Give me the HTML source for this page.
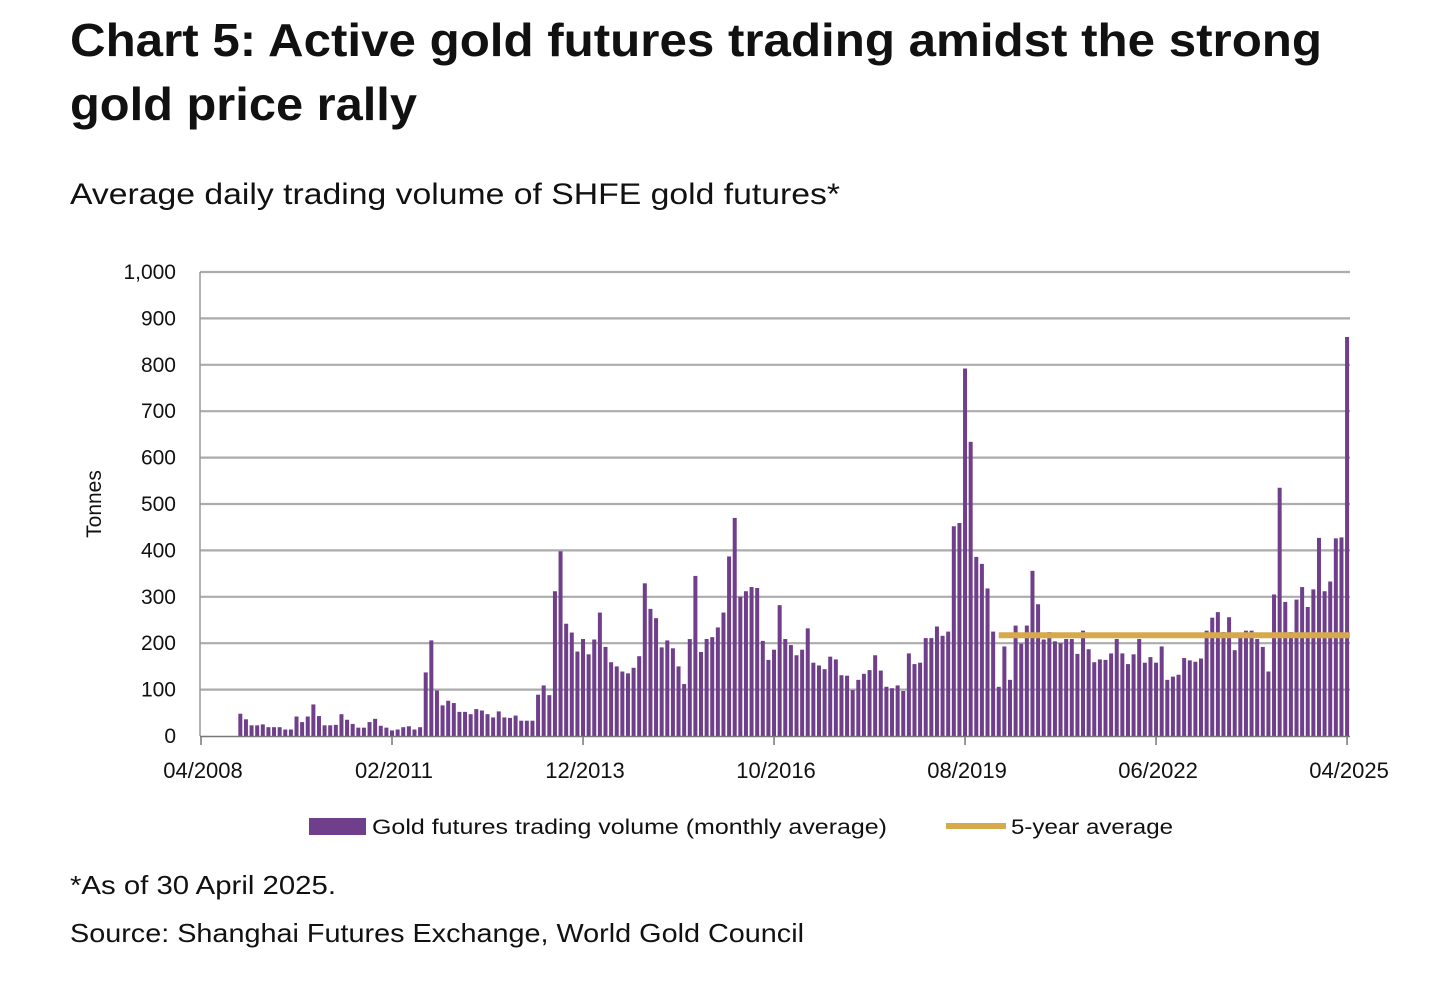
<!DOCTYPE html>
<html><head><meta charset="utf-8">
<style>
html,body{margin:0;padding:0;background:#fff;width:1432px;height:982px;overflow:hidden}
svg{display:block}
text{font-family:"Liberation Sans",sans-serif;fill:#111}
</style></head>
<body>
<svg id="chart" width="1432" height="982" viewBox="0 0 1432 982">
<text x="70" y="56" font-size="46" font-weight="bold" textLength="1252" lengthAdjust="spacingAndGlyphs">Chart 5: Active gold futures trading amidst the strong</text>
<text x="70" y="120" font-size="46" font-weight="bold" textLength="347" lengthAdjust="spacingAndGlyphs">gold price rally</text>
<text x="70" y="204" font-size="30" textLength="770" lengthAdjust="spacingAndGlyphs">Average daily trading volume of SHFE gold futures*</text>
<text transform="translate(101,504) rotate(-90)" text-anchor="middle" font-size="21">Tonnes</text>
<g id="grid"></g>
<g id="yticks"></g>
<g id="bars"></g>
<g id="avg"></g>
<g id="xaxis"></g>
<g>
<rect x="309" y="818" width="57" height="17" fill="#6f3f8c"/>
<text x="372" y="834" font-size="21" textLength="515" lengthAdjust="spacingAndGlyphs">Gold futures trading volume (monthly average)</text>
<rect x="946" y="823" width="60" height="6" fill="#d6a94c"/>
<text x="1011" y="834" font-size="21" textLength="162" lengthAdjust="spacingAndGlyphs">5-year average</text>
</g>
<text x="70" y="894" font-size="26" textLength="266" lengthAdjust="spacingAndGlyphs">*As of 30 April 2025.</text>
<text x="70" y="942" font-size="26" textLength="734" lengthAdjust="spacingAndGlyphs">Source: Shanghai Futures Exchange, World Gold Council</text>
</svg>
<script>
const volumes = [48,36,23,23,25,19,19,19,14,14,42,30,42,68,43,23,23,24,47,35,26,18,18,30,37,22,18,12,14,19,21,14,19,137,206,98,
66,76,71,52,52,47,58,55,47,40,53,40,39,44,33,33,33,89,109,88,312,398,242,223,182,209,176,208,266,192,159,150,
139,135,147,172,329,274,254,191,206,189,150,112,209,345,181,209,213,234,266,387,470,300,312,321,319,205,164,186,282,209,196,174,186,232,
158,152,144,171,165,131,130,99,121,134,142,174,141,106,103,109,97,178,155,158,211,211,236,216,225,452,459,792,634,386,371,318,225,106,193,
121,238,199,238,356,284,208,224,204,200,209,209,177,227,187,159,165,164,178,209,178,155,176,209,158,170,158,193,121,128,132,
168,163,160,167,227,255,267,224,256,185,215,227,227,209,192,139,305,535,289,224,294,321,278,316,427,312,333,426,428,860];
const firstMonthIndex = 7; // months after 04/2008 (11/2008)
const avgValue = 217;
const avgStartIndex = 142; // months after 04/2008
const avgEndIndex = 204.5;
const yTicks = [0,100,200,300,400,500,600,700,800,900,1000];
const yTickLabels = ["0","100","200","300","400","500","600","700","800","900","1,000"];
const xTickMonths = [0,34,68,102,136,170,204];
const xTickLabels = ["04/2008","02/2011","12/2013","10/2016","08/2019","06/2022","04/2025"];

const NS="http://www.w3.org/2000/svg";
const X0=201, PX=5.618, Y0=736, PY=0.464;
const x = m => X0 + m*PX;
const y = v => Y0 - v*PY;
function mk(tag, attrs, parent){const e=document.createElementNS(NS,tag);for(const k in attrs)e.setAttribute(k,attrs[k]);parent.appendChild(e);return e;}
const grid=document.getElementById('grid'), yt=document.getElementById('yticks');
yTicks.forEach((v,i)=>{
  if(v>0){const l=mk('line',{x1:200,x2:1350,y1:y(v),y2:y(v),stroke:'#ababab','stroke-width':2.2},grid);
  
  }
  const t=mk('text',{x:176,y:y(v)+7,'text-anchor':'end','font-size':21},yt);
  t.textContent=yTickLabels[i];
  
  
});
const yl=mk('line',{x1:200,x2:200,y1:272,y2:736,stroke:'#999','stroke-width':1.5},grid);


const bars=document.getElementById('bars');
volumes.forEach((v,i)=>{
  const cx=x(firstMonthIndex+i);
  const r=mk('rect',{x:cx-2,y:y(v),width:4,height:v*PY,fill:'#6f3f8c'},bars);
  
  
});
const avg=document.getElementById('avg');
const al=mk('line',{x1:x(avgStartIndex),x2:x(avgEndIndex),y1:y(avgValue),y2:y(avgValue),stroke:'#d6a94c','stroke-width':6},avg);


const xa=document.getElementById('xaxis');
const bl=mk('line',{x1:200,x2:1350,y1:736.5,y2:736.5,stroke:'#777','stroke-width':1.5},xa);


xTickMonths.forEach((m,i)=>{
  const tk=mk('line',{x1:x(m),x2:x(m),y1:736,y2:745,stroke:'#777','stroke-width':1.5},xa);
  
  
  const t=mk('text',{x:x(m)+2,y:778,'text-anchor':'middle','font-size':22},xa);
  t.textContent=xTickLabels[i];
  
  
});
</script>
</body></html>
